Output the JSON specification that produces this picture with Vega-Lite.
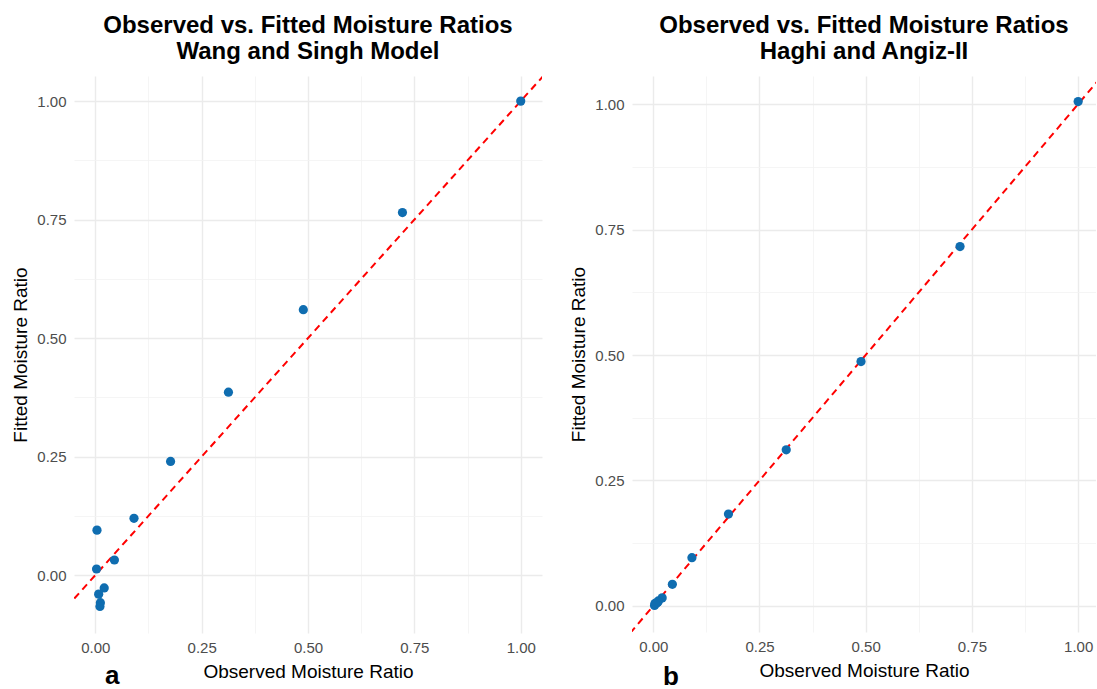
{
  "$schema": "https://vega.github.io/schema/vega-lite/v6.json",
  "background": "white",
  "padding": {"left": 11, "top": 14, "right": 0, "bottom": 0},
  "spacing": 27,
  "datasets": {
    "wang": [
      {"observed": 1.0, "fitted": 1.0},
      {"observed": 0.722, "fitted": 0.765},
      {"observed": 0.489, "fitted": 0.56},
      {"observed": 0.313, "fitted": 0.386},
      {"observed": 0.177, "fitted": 0.24},
      {"observed": 0.091, "fitted": 0.12},
      {"observed": 0.045, "fitted": 0.032},
      {"observed": 0.021, "fitted": -0.027},
      {"observed": 0.012, "fitted": -0.058},
      {"observed": 0.011, "fitted": -0.066},
      {"observed": 0.008, "fitted": -0.04},
      {"observed": 0.003, "fitted": 0.013},
      {"observed": 0.004, "fitted": 0.095}
    ],
    "haghi": [
      {"observed": 1.0, "fitted": 1.005},
      {"observed": 0.722, "fitted": 0.716},
      {"observed": 0.489, "fitted": 0.487},
      {"observed": 0.313, "fitted": 0.311},
      {"observed": 0.177, "fitted": 0.183},
      {"observed": 0.091, "fitted": 0.096},
      {"observed": 0.045, "fitted": 0.043},
      {"observed": 0.021, "fitted": 0.016},
      {"observed": 0.012, "fitted": 0.01},
      {"observed": 0.011, "fitted": 0.008},
      {"observed": 0.008, "fitted": 0.006},
      {"observed": 0.003, "fitted": 0.001},
      {"observed": 0.004, "fitted": 0.005}
    ],
    "identity": [
      {"observed": -0.2, "fitted": -0.2},
      {"observed": 1.2, "fitted": 1.2}
    ]
  },
  "config": {
    "font": "Liberation Sans",
    "view": {"stroke": null},
    "axis": {
      "domain": false,
      "ticks": false,
      "labelFont": "Liberation Sans",
      "labelFontSize": 15,
      "labelColor": "#4D4D4D",
      "titleFont": "Liberation Sans",
      "titleFontSize": 19,
      "titleFontWeight": "normal",
      "titleColor": "#000000",
      "gridColor": {"condition": {"test": "(datum.value * 4) % 1 != 0", "value": "#F3F3F3"}, "value": "#EBEBEB"},
      "gridWidth": {"condition": {"test": "(datum.value * 4) % 1 != 0", "value": 0.8}, "value": 1.4},
      "labelExpr": "(datum.value * 4) % 1 != 0 ? '' : format(datum.value, '.2f')",
      "labelOverlap": false
    },
    "axisX": {"labelPadding": 7, "titlePadding": 7},
    "axisY": {"labelPadding": 8, "titlePadding": 6},
    "title": {"font": "Liberation Sans", "fontSize": 24, "fontWeight": "bold", "color": "#000000", "anchor": "middle", "frame": "group", "lineHeight": 26, "offset": 12}
  },
  "hconcat": [
    {
      "title": {"text": "a", "orient": "bottom", "anchor": "start", "fontSize": 26, "fontWeight": "bold", "dx": 31, "offset": -18},
      "vconcat": [
        {
          "title": {"text": ["Observed vs. Fitted Moisture Ratios", "Wang and Singh Model"]},
          "width": 468,
          "height": 557,
          "layer": [
            {
              "data": {"name": "identity"},
              "mark": {"type": "line", "color": "#FF0000", "strokeWidth": 2, "strokeDash": [7, 5], "clip": true},
              "encoding": {
                "x": {"field": "observed", "type": "quantitative"},
                "y": {"field": "fitted", "type": "quantitative"}
              }
            },
            {
              "data": {"name": "wang"},
              "mark": {"type": "circle", "size": 85, "color": "#0F6DB0", "opacity": 1},
              "encoding": {
                "x": {"field": "observed", "type": "quantitative", "title": "Observed Moisture Ratio", "scale": {"domain": [-0.05, 1.05], "nice": false, "zero": false}, "axis": {"values": [0, 0.125, 0.25, 0.375, 0.5, 0.625, 0.75, 0.875, 1]}},
                "y": {"field": "fitted", "type": "quantitative", "title": "Fitted Moisture Ratio", "scale": {"domain": [-0.122, 1.053], "nice": false, "zero": false}, "axis": {"values": [0, 0.125, 0.25, 0.375, 0.5, 0.625, 0.75, 0.875, 1]}}
              }
            }
          ]
        }
      ]
    },
    {
      "title": {"text": "b", "orient": "bottom", "anchor": "start", "fontSize": 26, "fontWeight": "bold", "dx": 31, "offset": -16},
      "vconcat": [
        {
          "title": {"text": ["Observed vs. Fitted Moisture Ratios", "Haghi and Angiz-II"]},
          "width": 464,
          "height": 556,
          "layer": [
            {
              "data": {"name": "identity"},
              "mark": {"type": "line", "color": "#FF0000", "strokeWidth": 2, "strokeDash": [7, 5], "clip": true},
              "encoding": {
                "x": {"field": "observed", "type": "quantitative"},
                "y": {"field": "fitted", "type": "quantitative"}
              }
            },
            {
              "data": {"name": "haghi"},
              "mark": {"type": "circle", "size": 85, "color": "#0F6DB0", "opacity": 1},
              "encoding": {
                "x": {"field": "observed", "type": "quantitative", "title": "Observed Moisture Ratio", "scale": {"domain": [-0.05, 1.042], "nice": false, "zero": false}, "axis": {"values": [0, 0.125, 0.25, 0.375, 0.5, 0.625, 0.75, 0.875, 1]}},
                "y": {"field": "fitted", "type": "quantitative", "title": "Fitted Moisture Ratio", "scale": {"domain": [-0.052, 1.056], "nice": false, "zero": false}, "axis": {"values": [0, 0.125, 0.25, 0.375, 0.5, 0.625, 0.75, 0.875, 1]}}
              }
            }
          ]
        }
      ]
    }
  ]
}
